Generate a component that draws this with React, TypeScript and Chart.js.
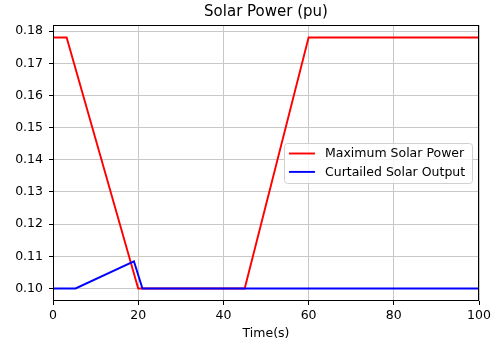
import React, { useEffect, useRef } from "react";
import { Chart, registerables } from "chart.js";

Chart.register(...registerables);

const timeMax = [0, 3.2, 20, 45, 60, 100];
const maxSolarPower = [0.178, 0.178, 0.1, 0.1, 0.178, 0.178];
const timeCurtailed = [0, 5.3, 19, 21, 100];
const curtailedOutput = [0.1, 0.1, 0.1084, 0.1, 0.1];
const xTicks = [0, 20, 40, 60, 80, 100];
const yTicks = [0.1, 0.11, 0.12, 0.13, 0.14, 0.15, 0.16, 0.17, 0.18];
const FONT = "'DejaVu Sans', sans-serif";
const TICK_SIZE = 12.5;

const framePlugin = {
  id: "frame",
  afterDraw(chart: any) {
    const { ctx, chartArea: a } = chart;
    ctx.save();
    ctx.strokeStyle = "#000";
    ctx.lineWidth = 1;
    ctx.strokeRect(Math.round(a.left) + 0.5, Math.round(a.top) + 0.5, Math.round(a.right - a.left) - 1, Math.round(a.bottom - a.top) - 1);
    // legend
    const w = 188, h = 40;
    const x = a.right - 7 - w;
    const y = (a.top + a.bottom) / 2 - h / 2;
    ctx.fillStyle = "rgba(255,255,255,0.8)";
    ctx.strokeStyle = "#d0d0d0";
    ctx.lineWidth = 1;
    ctx.beginPath();
    ctx.roundRect(x + 0.5, y + 0.5, w, h, 3);
    ctx.fill();
    ctx.stroke();
    ctx.font = `${TICK_SIZE}px ${FONT}`;
    ctx.textBaseline = "middle";
    ctx.textAlign = "left";
    chart.data.datasets.forEach((ds: any, i: number) => {
      const ry = y + 10.5 + i * 18.4;
      ctx.strokeStyle = ds.borderColor;
      ctx.lineWidth = 1.9;
      ctx.beginPath();
      ctx.moveTo(x + 5, ry);
      ctx.lineTo(x + 31, ry);
      ctx.stroke();
      ctx.fillStyle = "#000";
      ctx.fillText(ds.label, x + 41, ry + 0.5);
    });
    ctx.restore();
  },
};

export default function App() {
  const ref = useRef<HTMLCanvasElement>(null);
  useEffect(() => {
    const chart = new Chart(ref.current!, {
      type: "line",
      data: {
        datasets: [
          {
            label: "Maximum Solar Power",
            data: timeMax.map((t, i) => ({ x: t, y: maxSolarPower[i] })),
            borderColor: "#ff0000",
            borderWidth: 1.9,
            pointRadius: 0,
            tension: 0,
            order: 1,
          },
          {
            label: "Curtailed Solar Output",
            data: timeCurtailed.map((t, i) => ({ x: t, y: curtailedOutput[i] })),
            borderColor: "#0000ff",
            borderWidth: 1.9,
            pointRadius: 0,
            tension: 0,
            order: 0,
          },
        ],
      },
      options: {
        responsive: false,
        animation: false,
        layout: { padding: { left: 0, right: 17, top: 0, bottom: 0 } },
        plugins: {
          legend: { display: false },
          tooltip: { enabled: false },
          title: {
            display: true,
            text: "Solar Power (pu)",
            fullSize: false,
            color: "#000",
            font: { family: FONT, size: 15, weight: "normal" },
            padding: { top: 3, bottom: 4 },
          },
        },
        scales: {
          x: {
            type: "linear",
            min: 0,
            max: 100,
            afterBuildTicks: (s: any) => {
              s.ticks = xTicks.map((v) => ({ value: v }));
            },
            afterFit: (s: any) => {
              s.height = 46;
            },
            ticks: {
              color: "#000",
              font: { family: FONT, size: TICK_SIZE },
              padding: 3,
              maxRotation: 0,
              autoSkip: false,
            },
            grid: { color: "#c8c8c8", lineWidth: 1, tickLength: 4, tickColor: "#000" },
            border: { display: false },
            title: {
              display: true,
              text: "Time(s)",
              color: "#000",
              font: { family: FONT, size: TICK_SIZE },
              padding: { top: 0, bottom: 6 },
            },
          },
          y: {
            type: "linear",
            min: 0.0961,
            max: 0.1819,
            afterBuildTicks: (s: any) => {
              s.ticks = yTicks.map((v) => ({ value: v }));
            },
            afterFit: (s: any) => {
              s.width = 53;
            },
            ticks: {
              color: "#000",
              font: { family: FONT, size: TICK_SIZE },
              padding: 6,
              autoSkip: false,
              callback: (v: any) => Number(v).toFixed(2),
            },
            grid: { color: "#c8c8c8", lineWidth: 1, tickLength: 4, tickColor: "#000" },
            border: { display: false },
          },
        },
      },
      plugins: [framePlugin],
    });
    return () => chart.destroy();
  }, []);
  return (
    <div style={{ position: "fixed", left: 0, top: 0, width: 496, height: 347, background: "#fff" }}>
      <canvas ref={ref} width={496} height={347} style={{ width: 496, height: 347 }} />
    </div>
  );
}
